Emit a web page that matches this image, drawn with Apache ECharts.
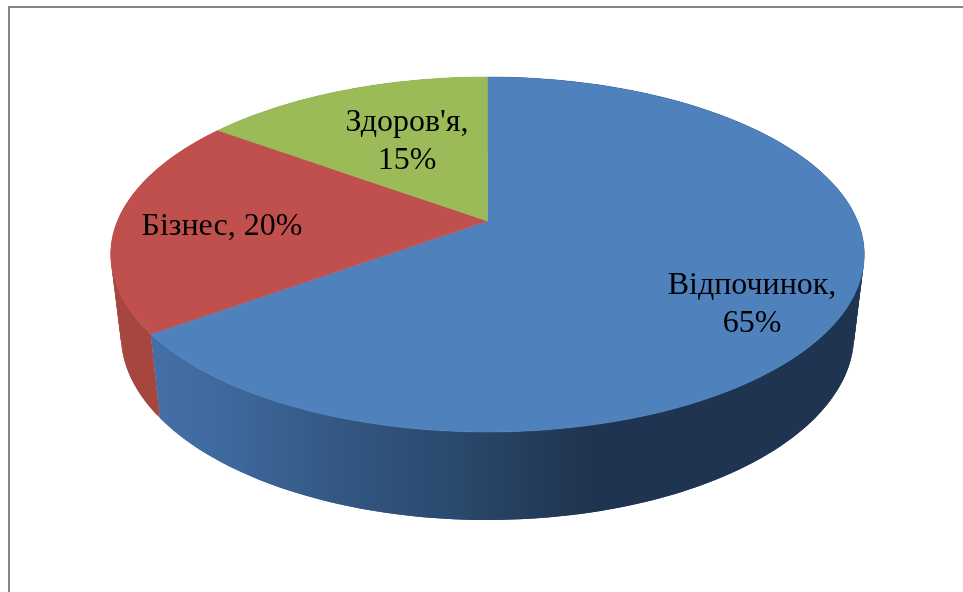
<!DOCTYPE html>
<html>
<head>
<meta charset="utf-8">
<script src="https://cdn.jsdelivr.net/npm/echarts@6/dist/echarts.min.js"></script>
<style>
html, body { margin: 0; padding: 0; background: #fff; overflow: hidden; }
#main { width: 963px; height: 592px; }
</style>
</head>
<body>
<div id="main"></div>
<script>
// values
var categories = ['Відпочинок', 'Бізнес', "Здоров'я"];
var shares = [65, 20, 15];
var labelLines = [['Відпочинок,', '65%'], ['Бізнес, 20%'], ["Здоров'я,", '15%']];

// colours, same order as categories
var topColors = ['#4F81BD', '#C0504D', '#9BBB59'];
var wallStops = [
  [[0, '#436FA6'], [0.13, '#3F6A9F'], [0.44, '#325680'], [0.67, '#2A4A6E'], [0.83, '#263F5E'], [1, '#1F3450']],
  [[0, '#A5463F'], [1, '#A5463F']],
  [[0, '#7F9A48'], [1, '#7F9A48']]
];

// label centres in px
var labelPos = [[752, 305], [222, 227], [407, 141.5]];
var lineGap = 38;

// perspective of the disc, fitted to the reference
var tilt = -0.1887;
var topPlane = { cx: 487.5, cy: 221, a: 370, b: 171.2 };
var basePlane = { cx: 487.5, cy: 300.1, a: 360, b: 178.4 };

var total = shares.reduce(function (s, v) { return s + v; }, 0);

function project(plane, angle, r) {
  var u = Math.sin(angle) * r;
  var v = -Math.cos(angle) * r;
  var w = 1 + tilt * v;
  return [plane.cx + u * plane.a / w, plane.cy + v * plane.b / w];
}

function sliceAngles(index) {
  var before = 0;
  for (var i = 0; i < index; i++) before += shares[i];
  return [before / total * Math.PI * 2, (before + shares[index]) / total * Math.PI * 2];
}

function arcPoints(plane, a0, a1) {
  var pts = [];
  var steps = Math.max(12, Math.ceil((a1 - a0) * 60));
  for (var i = 0; i <= steps; i++) {
    pts.push(project(plane, a0 + (a1 - a0) * i / steps, 1));
  }
  return pts;
}

function renderWall(params, api) {
  var idx = api.value(0);
  var ang = sliceAngles(idx);
  var upper = arcPoints(topPlane, ang[0], ang[1]);
  var lower = arcPoints(basePlane, ang[0], ang[1]);
  var stops = wallStops[idx].map(function (s) { return { offset: s[0], color: s[1] }; });
  var fill = new echarts.graphic.LinearGradient(160, 0, 590, 0, stops, true);
  // quads, not one outline: the two arcs cross at the sides and the silhouette is their hull
  var quads = [];
  for (var i = 0; i < upper.length - 1; i++) {
    var j = Math.min(i + 2, upper.length - 1); // overlap by a step so no seams show
    quads.push({
      type: 'polygon',
      shape: { points: [upper[i], upper[j], lower[j], lower[i]] },
      style: { fill: fill, stroke: null }
    });
  }
  return { type: 'group', children: quads };
}

function renderTop(params, api) {
  var idx = api.value(0);
  var ang = sliceAngles(idx);
  var apex = [topPlane.cx, topPlane.cy];
  var pts = [apex].concat(arcPoints(topPlane, ang[0], ang[1]));
  return {
    type: 'polygon',
    shape: { points: pts },
    style: { fill: topColors[idx], stroke: topColors[idx], lineWidth: 0.5 }
  };
}

function renderLabel(params, api) {
  var idx = api.value(0);
  var lines = labelLines[idx];
  var first = labelPos[idx][1] - (lines.length - 1) * lineGap / 2;
  return {
    type: 'group',
    children: lines.map(function (t, i) {
      return {
        type: 'text',
        style: {
          x: labelPos[idx][0],
          y: first + i * lineGap,
          text: t,
          fill: '#000',
          font: '32px "Liberation Serif", serif',
          textAlign: 'center',
          textVerticalAlign: 'middle'
        }
      };
    })
  };
}

var seriesData = categories.map(function (name, i) {
  return { name: name, value: [i, shares[i]] };
});

var myChart = echarts.init(document.getElementById('main'), null, { renderer: 'canvas' });
myChart.setOption({
  animation: false,
  backgroundColor: '#fff',
  graphic: [{
    type: 'polyline',
    shape: { points: [[9, 592], [9, 7], [963, 7]] },
    style: { stroke: '#868686', lineWidth: 2, fill: null }
  }],
  series: [
    { type: 'custom', coordinateSystem: 'none', renderItem: renderWall, data: seriesData, z: 1 },
    { type: 'custom', coordinateSystem: 'none', renderItem: renderTop, data: seriesData, z: 2 },
    { type: 'custom', coordinateSystem: 'none', renderItem: renderLabel, data: seriesData, z: 3 }
  ]
});
</script>
</body>
</html>
